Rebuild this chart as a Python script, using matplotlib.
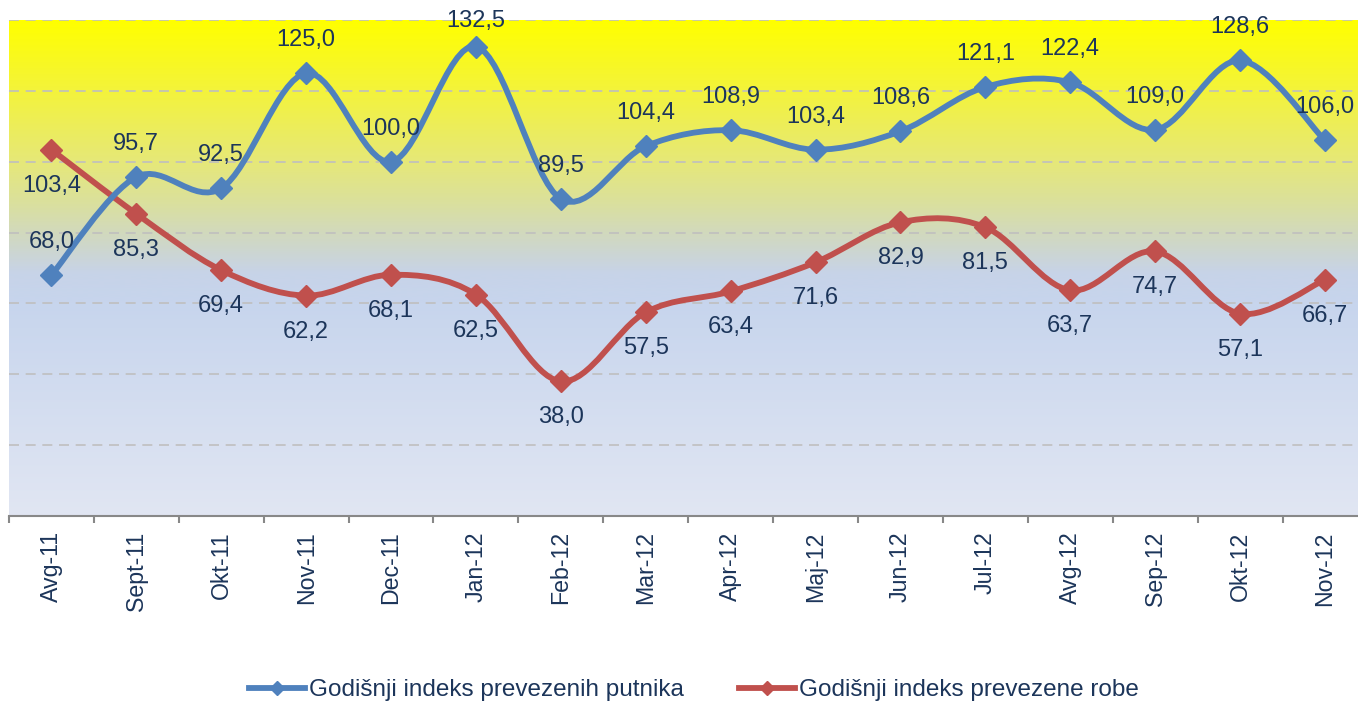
import numpy as np
import matplotlib
matplotlib.use("Agg")
import matplotlib.pyplot as plt
from matplotlib.path import Path
from matplotlib.patches import PathPatch
from matplotlib.lines import Line2D
from matplotlib.colors import LinearSegmentedColormap

plt.rcParams['font.family'] = ['Liberation Sans', 'DejaVu Sans']

categories = ["Avg-11", "Sept-11", "Okt-11", "Nov-11", "Dec-11", "Jan-12", "Feb-12",
              "Mar-12", "Apr-12", "Maj-12", "Jun-12", "Jul-12", "Avg-12", "Sep-12",
              "Okt-12", "Nov-12"]
putnici = [68.0, 95.7, 92.5, 125.0, 100.0, 132.5, 89.5, 104.4, 108.9, 103.4,
           108.6, 121.1, 122.4, 109.0, 128.6, 106.0]
roba = [103.4, 85.3, 69.4, 62.2, 68.1, 62.5, 38.0, 57.5, 63.4, 71.6,
        82.9, 81.5, 63.7, 74.7, 57.1, 66.7]
series_names = ["Godišnji indeks prevezenih putnika", "Godišnji indeks prevezene robe"]

BLUE = "#4F81BD"
RED = "#C0504D"
TXT = "#1C355A"

W, H = 1358, 702
fig = plt.figure(figsize=(W / 100, H / 100), dpi=100)
left_px, right_px, top_px, bot_px = 9, 9 + 16 * 84.9, 20, 516
ax = fig.add_axes([left_px / W, (H - bot_px) / H, (right_px - left_px) / W, (bot_px - top_px) / H])

n = len(categories)
x = np.arange(n)
YMAX = 140
ax.set_xlim(-0.5, n - 0.5)
ax.set_ylim(0, YMAX)

# gradient background
def c(r, g, b):
    return (r / 255, g / 255, b / 255)

cmap = LinearSegmentedColormap.from_list("bg", [
    (0.0, c(255, 255, 0)),
    (0.143, c(243, 243, 60)),
    (0.284, c(230, 232, 120)),
    (0.37, c(218, 224, 158)),
    (0.44, c(208, 216, 195)),
    (0.51, c(199, 211, 232)),
    (0.57, c(199, 213, 237)),
    (1.0, c(225, 230, 243)),
])
grad = np.linspace(0, 1, 512).reshape(-1, 1)
ax.imshow(grad, aspect="auto", cmap=cmap, extent=[-0.5, n - 0.5, 0, YMAX],
          origin="upper", zorder=0, interpolation="bilinear")

for yv in range(20, 141, 20):
    ax.axhline(yv, color="#BFBFBF", lw=1.2, ls=(0, (6, 4)), zorder=1)


def smooth_path(xs, ys):
    pts = np.column_stack([xs, ys])
    verts = [pts[0]]
    codes = [Path.MOVETO]
    m = len(pts)
    for i in range(m - 1):
        p0 = pts[i - 1] if i > 0 else pts[i]
        p1 = pts[i]
        p2 = pts[i + 1]
        p3 = pts[i + 2] if i + 2 < m else pts[i + 1]
        c1 = p1 + (p2 - p0) / 6.0
        c2 = p2 - (p3 - p1) / 6.0
        verts += [c1, c2, p2]
        codes += [Path.CURVE4] * 3
    return Path(verts, codes)


px_per_unit = (bot_px - top_px) / YMAX
for vals, col, above in [(roba, RED, False), (putnici, BLUE, True)]:
    ax.add_patch(PathPatch(smooth_path(x, vals), fill=False, edgecolor=col, lw=4.2,
                           capstyle="round", joinstyle="round", zorder=3))
    ax.plot(x, vals, ls="none", marker="D", ms=11, color=col, zorder=4)
    for xi, v in zip(x, vals):
        if above:
            marker_px = top_px + (YMAX - v) * px_per_unit
            off_px = min(33, marker_px - 21)
            off = off_px / 100 * 72
        else:
            off = -36 / 100 * 72
        ax.annotate(f"{v:.1f}".replace(".", ","), (xi, v),
                    xytext=(0, off), textcoords="offset points",
                    ha="center", va="center", fontsize=17, color=TXT,
                    annotation_clip=False, zorder=5)

for s in ["left", "right", "top"]:
    ax.spines[s].set_visible(False)
ax.spines["bottom"].set_color("#888888")
ax.spines["bottom"].set_linewidth(1.5)
ax.set_yticks([])
ax.set_xticks(np.arange(-0.5, n, 1.0), minor=False)
ax.set_xticklabels([])
ax.tick_params(axis="x", which="major", length=5, width=1.5, color="#888888", direction="out")
ax.set_xticks(x, minor=True)
ax.set_xticklabels(categories, minor=True, rotation=90, fontsize=16.7, color=TXT)
ax.tick_params(axis="x", which="minor", length=0, pad=11)

handles = [Line2D([], [], color=BLUE, lw=4.2, marker="D", ms=7),
           Line2D([], [], color=RED, lw=4.2, marker="D", ms=7)]
leg = fig.legend(handles, series_names, loc="center", bbox_to_anchor=(694 / W, 12 / H),
                 ncol=2, frameon=False, fontsize=17.5, handlelength=2.3,
                 handletextpad=0.15, columnspacing=2.3, labelcolor=TXT,
                 borderpad=0, borderaxespad=0)

fig.savefig("out.png", dpi=100)
